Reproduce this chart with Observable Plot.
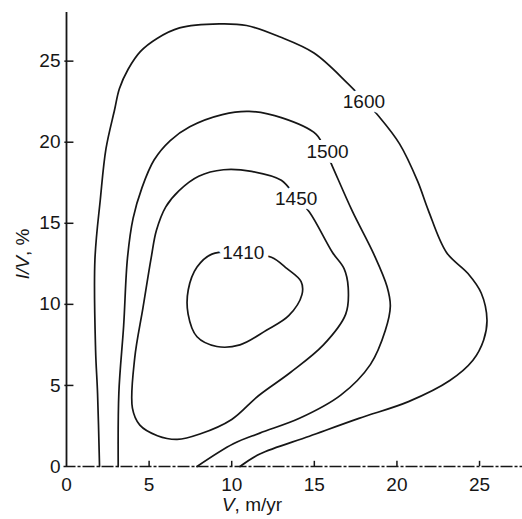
<!DOCTYPE html>
<html>
<head>
<meta charset="utf-8">
<script src="https://cdn.jsdelivr.net/npm/d3@7"></script>
<script src="https://cdn.jsdelivr.net/npm/@observablehq/plot@0.6"></script>
<style>
  html, body { margin: 0; padding: 0; background: #fff; }
  #chart { width: 522px; height: 519px; }
</style>
</head>
<body>
<div id="chart"></div>
<script>
// Contour 1600 (open, from V-axis foot around to x-axis)
const c1600V  = [2.0, 1.88, 1.76, 1.72, 2.05, 2.39, 2.91, 3.2, 3.73, 4.48, 5.48, 6.84, 9.25, 10.9, 12.9, 14.98, 17.0, 18.0, 18.9, 20.16, 21.25, 21.9, 23.0, 24.3, 25.1, 25.45, 25.25, 24.6, 23.2, 20.7, 17.7, 14.7, 11.7, 10.5];
const c1600IV = [0, 4.5, 7.2, 12.75, 16.5, 19.6, 22.0, 23.3, 24.5, 25.6, 26.4, 27.05, 27.3, 27.2, 26.5, 25.5, 23.65, 22.6, 21.6, 19.9, 17.6, 15.8, 13.2, 11.9, 10.7, 9.04, 7.8, 6.55, 5.3, 4.0, 2.97, 1.87, 0.77, 0];
// Contour 1500 (open)
const c1500V  = [3.13, 3.17, 3.46, 3.69, 4.03, 4.57, 5.3, 6.28, 7.46, 9.43, 11.05, 13.05, 15.1, 15.7, 16.1, 17.3, 18.6, 19.4, 19.6, 19.3, 18.4, 16.6, 14.1, 11.7, 10.1, 7.9];
const c1500IV = [0, 4.57, 8.7, 12.85, 15.3, 17.2, 18.9, 20.1, 20.95, 21.7, 21.9, 21.5, 20.5, 19.4, 18.5, 15.75, 13.1, 11.1, 9.9, 8.4, 6.3, 4.4, 2.97, 2.06, 1.4, 0];
// Contour 1450 (closed)
const c1450V  = [14.7, 16.1, 16.8, 17.05, 16.9, 15.55, 13.55, 11.6, 10.0, 8.07, 6.7, 5.5, 4.44, 3.99, 4.13, 4.63, 5.13, 5.44, 6.0, 6.8, 8.0, 9.5, 11.2, 13.0, 13.9];
const c1450IV = [15.7, 13.2, 12.2, 11.05, 9.4, 7.5, 5.8, 4.35, 2.9, 2.0, 1.67, 1.9, 2.55, 3.6, 6.7, 9.8, 12.9, 14.55, 16.0, 17.0, 17.9, 18.3, 18.2, 17.65, 16.6];
// Contour 1410 (closed)
const c1410V  = [8.8, 7.9, 7.37, 7.36, 7.9, 9.1, 10.5, 12.1, 13.45, 14.25, 14.2, 13.35, 12.4, 10.7];
const c1410IV = [13.1, 12.3, 10.9, 9.4, 8.0, 7.4, 7.5, 8.4, 9.3, 10.6, 11.4, 12.2, 12.9, 13.2];

const levelNames = ["1600", "1500", "1450", "1410"];
const labelV  = [18.0, 15.8, 13.9, 10.7];
const labelIV = [22.5, 19.4, 16.5, 13.2];

const xTicks = [0, 5, 10, 15, 20, 25];
const yTicks = [0, 5, 10, 15, 20, 25];

const toPts = (vs, ivs) => vs.map((v, i) => ({v, iv: ivs[i]}));
const open1600 = toPts(c1600V, c1600IV);
const open1500 = toPts(c1500V, c1500IV);
const loop1450 = toPts(c1450V, c1450IV);
const loop1410 = toPts(c1410V, c1410IV);
const labels = levelNames.map((t, i) => ({t, v: labelV[i], iv: labelIV[i]}));

const ink = "#161616";
const font = "'Liberation Sans', Arial, sans-serif";
const fs = 19;

const chart = Plot.plot({
  width: 522,
  height: 519,
  marginLeft: 66,
  marginRight: 0,
  marginTop: 12,
  marginBottom: 53,
  x: {domain: [0, 27.6], axis: null},
  y: {domain: [0, 28], axis: null},
  style: {fontFamily: font, fontSize: fs + "px", color: ink, background: "#fff", overflow: "visible"},
  marks: [
    // axes
    Plot.ruleX([0], {y1: 0, y2: 28, stroke: ink, strokeWidth: 1.8}),
    Plot.ruleY([0], {x1: -0.15, x2: 27.6, stroke: ink, strokeWidth: 1.6, strokeDasharray: "12,2,3,2"}),
    Plot.ruleY(yTicks.filter(d => d > 0), {y: d => d, x1: -0.1, x2: 0.45, stroke: ink, strokeWidth: 1.5}),
    Plot.ruleX(xTicks.filter(d => d > 0), {x: d => d, y1: 0, y2: 0.32, stroke: ink, strokeWidth: 1.5}),
    Plot.text(yTicks, {x: 0, y: d => d, text: d => String(d), dx: -6, textAnchor: "end", fill: ink, fontSize: fs}),
    Plot.text(xTicks, {x: d => d, y: 0, text: d => String(d), dy: 18, fill: ink, fontSize: fs}),
    // contours
    Plot.line(open1600, {x: "v", y: "iv", curve: "catmull-rom", stroke: ink, strokeWidth: 1.7}),
    Plot.line(open1500, {x: "v", y: "iv", curve: "catmull-rom", stroke: ink, strokeWidth: 1.7}),
    Plot.line(loop1450, {x: "v", y: "iv", curve: "catmull-rom-closed", stroke: ink, strokeWidth: 1.7}),
    Plot.line(loop1410, {x: "v", y: "iv", curve: "catmull-rom-closed", stroke: ink, strokeWidth: 1.7}),
    // contour labels with white halo to cut the lines
    Plot.text(labels, {x: "v", y: "iv", text: "t", fill: ink, fontSize: fs, stroke: "#fff", strokeWidth: 10})
  ]
});

// axis titles (V and I/V italic)
const svg = d3.select(chart);
const xt = svg.append("text")
  .attr("x", 252).attr("y", 511)
  .attr("fill", ink).attr("font-size", fs).attr("font-family", font);
xt.append("tspan").attr("font-style", "italic").text("V");
xt.append("tspan").text(", m/yr");

const yt = svg.append("text")
  .attr("transform", "translate(29,254) rotate(-90)")
  .attr("text-anchor", "middle")
  .attr("fill", ink).attr("font-size", fs).attr("font-family", font);
yt.append("tspan").attr("font-style", "italic").text("I/V");
yt.append("tspan").text(", %");

document.getElementById("chart").appendChild(chart);
</script>
</body>
</html>
